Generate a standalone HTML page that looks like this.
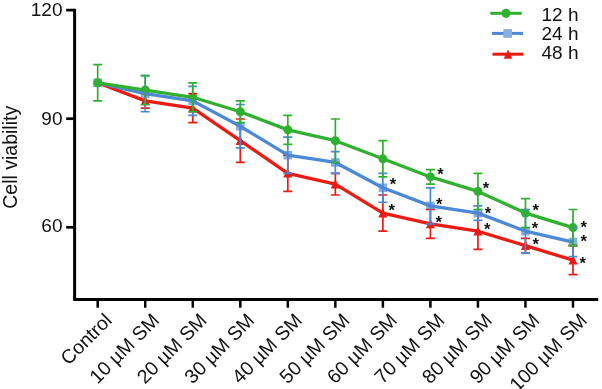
<!DOCTYPE html><html><head><meta charset="utf-8"><title>Cell viability</title>
<style>html,body{margin:0;padding:0;background:#fff}svg{display:block}text{font-family:"Liberation Sans",Arial,Helvetica,sans-serif;fill:#111}</style></head><body>
<svg width="602" height="389" viewBox="0 0 602 389">
<rect width="602" height="389" fill="#fff"/>
<path d="M97.70 77.90L102.30 87.10H93.10Z" fill="#ea1b12"/>
<path d="M145.23 96.00L149.83 105.20H140.63Z" fill="#ea1b12"/>
<path d="M192.76 103.24L197.36 112.44H188.16Z" fill="#ea1b12"/>
<path d="M240.29 135.82L244.89 145.02H235.69Z" fill="#ea1b12"/>
<path d="M287.82 168.40L292.42 177.60H283.22Z" fill="#ea1b12"/>
<path d="M335.35 179.26L339.95 188.46H330.75Z" fill="#ea1b12"/>
<path d="M382.88 208.22L387.48 217.42H378.28Z" fill="#ea1b12"/>
<path d="M430.41 219.08L435.01 228.28H425.81Z" fill="#ea1b12"/>
<path d="M477.94 226.32L482.54 235.52H473.34Z" fill="#ea1b12"/>
<path d="M525.47 240.80L530.07 250.00H520.87Z" fill="#ea1b12"/>
<path d="M573.00 255.28L577.60 264.48H568.40Z" fill="#ea1b12"/>
<rect x="93.40" y="78.50" width="8.6" height="8.6" fill="#86afe6"/>
<rect x="140.93" y="89.36" width="8.6" height="8.6" fill="#86afe6"/>
<rect x="188.46" y="96.60" width="8.6" height="8.6" fill="#86afe6"/>
<rect x="235.99" y="121.94" width="8.6" height="8.6" fill="#86afe6"/>
<rect x="283.52" y="150.90" width="8.6" height="8.6" fill="#86afe6"/>
<rect x="331.05" y="158.14" width="8.6" height="8.6" fill="#86afe6"/>
<rect x="378.58" y="183.48" width="8.6" height="8.6" fill="#86afe6"/>
<rect x="426.11" y="201.58" width="8.6" height="8.6" fill="#86afe6"/>
<rect x="473.64" y="208.82" width="8.6" height="8.6" fill="#86afe6"/>
<rect x="521.17" y="226.92" width="8.6" height="8.6" fill="#86afe6"/>
<rect x="568.70" y="237.78" width="8.6" height="8.6" fill="#86afe6"/>
<circle cx="97.70" cy="82.80" r="4.5" fill="#30b030"/>
<circle cx="145.23" cy="90.04" r="4.5" fill="#30b030"/>
<circle cx="192.76" cy="97.28" r="4.5" fill="#30b030"/>
<circle cx="240.29" cy="111.76" r="4.5" fill="#30b030"/>
<circle cx="287.82" cy="129.86" r="4.5" fill="#30b030"/>
<circle cx="335.35" cy="140.72" r="4.5" fill="#30b030"/>
<circle cx="382.88" cy="158.82" r="4.5" fill="#30b030"/>
<circle cx="430.41" cy="176.92" r="4.5" fill="#30b030"/>
<circle cx="477.94" cy="191.40" r="4.5" fill="#30b030"/>
<circle cx="525.47" cy="213.12" r="4.5" fill="#30b030"/>
<circle cx="573.00" cy="227.60" r="4.5" fill="#30b030"/>
<path d="M145.23 93.66V108.14M140.73 93.66H149.73M140.73 108.14H149.73" stroke="#ea1b12" stroke-width="1.7" fill="none"/>
<path d="M192.76 93.66V122.62M188.26 93.66H197.26M188.26 122.62H197.26" stroke="#ea1b12" stroke-width="1.7" fill="none"/>
<path d="M240.29 119.00V162.44M235.79 119.00H244.79M235.79 162.44H244.79" stroke="#ea1b12" stroke-width="1.7" fill="none"/>
<path d="M287.82 155.20V191.40M283.32 155.20H292.32M283.32 191.40H292.32" stroke="#ea1b12" stroke-width="1.7" fill="none"/>
<path d="M335.35 173.30V195.02M330.85 173.30H339.85M330.85 195.02H339.85" stroke="#ea1b12" stroke-width="1.7" fill="none"/>
<path d="M382.88 195.02V231.22M378.38 195.02H387.38M378.38 231.22H387.38" stroke="#ea1b12" stroke-width="1.7" fill="none"/>
<path d="M430.41 209.50V238.46M425.91 209.50H434.91M425.91 238.46H434.91" stroke="#ea1b12" stroke-width="1.7" fill="none"/>
<path d="M477.94 213.12V249.32M473.44 213.12H482.44M473.44 249.32H482.44" stroke="#ea1b12" stroke-width="1.7" fill="none"/>
<path d="M525.47 238.46V252.94M520.97 238.46H529.97M520.97 252.94H529.97" stroke="#ea1b12" stroke-width="1.7" fill="none"/>
<path d="M573.00 245.70V274.66M568.50 245.70H577.50M568.50 274.66H577.50" stroke="#ea1b12" stroke-width="1.7" fill="none"/>
<polyline points="97.70,82.80 145.23,100.90 192.76,108.14 240.29,140.72 287.82,173.30 335.35,184.16 382.88,213.12 430.41,223.98 477.94,231.22 525.47,245.70 573.00,260.18" fill="none" stroke="#ea1b12" stroke-width="3.3" stroke-linejoin="round"/>
<path d="M145.23 75.56V111.76M140.73 75.56H149.73M140.73 111.76H149.73" stroke="#4c88d4" stroke-width="1.7" fill="none"/>
<path d="M192.76 86.42V115.38M188.26 86.42H197.26M188.26 115.38H197.26" stroke="#4c88d4" stroke-width="1.7" fill="none"/>
<path d="M240.29 104.52V147.96M235.79 104.52H244.79M235.79 147.96H244.79" stroke="#4c88d4" stroke-width="1.7" fill="none"/>
<path d="M287.82 137.10V173.30M283.32 137.10H292.32M283.32 173.30H292.32" stroke="#4c88d4" stroke-width="1.7" fill="none"/>
<path d="M335.35 151.58V173.30M330.85 151.58H339.85M330.85 173.30H339.85" stroke="#4c88d4" stroke-width="1.7" fill="none"/>
<path d="M382.88 173.30V202.26M378.38 173.30H387.38M378.38 202.26H387.38" stroke="#4c88d4" stroke-width="1.7" fill="none"/>
<path d="M430.41 187.78V223.98M425.91 187.78H434.91M425.91 223.98H434.91" stroke="#4c88d4" stroke-width="1.7" fill="none"/>
<path d="M477.94 205.88V220.36M473.44 205.88H482.44M473.44 220.36H482.44" stroke="#4c88d4" stroke-width="1.7" fill="none"/>
<path d="M525.47 209.50V252.94M520.97 209.50H529.97M520.97 252.94H529.97" stroke="#4c88d4" stroke-width="1.7" fill="none"/>
<path d="M573.00 227.60V256.56M568.50 227.60H577.50M568.50 256.56H577.50" stroke="#4c88d4" stroke-width="1.7" fill="none"/>
<polyline points="97.70,82.80 145.23,93.66 192.76,100.90 240.29,126.24 287.82,155.20 335.35,162.44 382.88,187.78 430.41,205.88 477.94,213.12 525.47,231.22 573.00,242.08" fill="none" stroke="#4c88d4" stroke-width="3.3" stroke-linejoin="round"/>
<path d="M97.70 64.70V100.90M93.20 64.70H102.20M93.20 100.90H102.20" stroke="#30b030" stroke-width="1.7" fill="none"/>
<path d="M145.23 75.56V104.52M140.73 75.56H149.73M140.73 104.52H149.73" stroke="#30b030" stroke-width="1.7" fill="none"/>
<path d="M192.76 82.80V111.76M188.26 82.80H197.26M188.26 111.76H197.26" stroke="#30b030" stroke-width="1.7" fill="none"/>
<path d="M240.29 100.90V122.62M235.79 100.90H244.79M235.79 122.62H244.79" stroke="#30b030" stroke-width="1.7" fill="none"/>
<path d="M287.82 115.38V144.34M283.32 115.38H292.32M283.32 144.34H292.32" stroke="#30b030" stroke-width="1.7" fill="none"/>
<path d="M335.35 119.00V162.44M330.85 119.00H339.85M330.85 162.44H339.85" stroke="#30b030" stroke-width="1.7" fill="none"/>
<path d="M382.88 140.72V176.92M378.38 140.72H387.38M378.38 176.92H387.38" stroke="#30b030" stroke-width="1.7" fill="none"/>
<path d="M430.41 169.68V184.16M425.91 169.68H434.91M425.91 184.16H434.91" stroke="#30b030" stroke-width="1.7" fill="none"/>
<path d="M477.94 173.30V209.50M473.44 173.30H482.44M473.44 209.50H482.44" stroke="#30b030" stroke-width="1.7" fill="none"/>
<path d="M525.47 198.64V227.60M520.97 198.64H529.97M520.97 227.60H529.97" stroke="#30b030" stroke-width="1.7" fill="none"/>
<path d="M573.00 209.50V245.70M568.50 209.50H577.50M568.50 245.70H577.50" stroke="#30b030" stroke-width="1.7" fill="none"/>
<polyline points="97.70,82.80 145.23,90.04 192.76,97.28 240.29,111.76 287.82,129.86 335.35,140.72 382.88,158.82 430.41,176.92 477.94,191.40 525.47,213.12 573.00,227.60" fill="none" stroke="#30b030" stroke-width="3.3" stroke-linejoin="round"/>
<path d="M74.6 8.8V299.6M73.1 299.6H598.2" stroke="#000" stroke-width="3" fill="none"/>
<path d="M66.2 10.10H74" stroke="#000" stroke-width="2.7"/>
<path d="M66.2 118.70H74" stroke="#000" stroke-width="2.7"/>
<path d="M66.2 227.30H74" stroke="#000" stroke-width="2.7"/>
<path d="M97.70 299V307.7" stroke="#000" stroke-width="2.5"/>
<path d="M145.23 299V307.7" stroke="#000" stroke-width="2.5"/>
<path d="M192.76 299V307.7" stroke="#000" stroke-width="2.5"/>
<path d="M240.29 299V307.7" stroke="#000" stroke-width="2.5"/>
<path d="M287.82 299V307.7" stroke="#000" stroke-width="2.5"/>
<path d="M335.35 299V307.7" stroke="#000" stroke-width="2.5"/>
<path d="M382.88 299V307.7" stroke="#000" stroke-width="2.5"/>
<path d="M430.41 299V307.7" stroke="#000" stroke-width="2.5"/>
<path d="M477.94 299V307.7" stroke="#000" stroke-width="2.5"/>
<path d="M525.47 299V307.7" stroke="#000" stroke-width="2.5"/>
<path d="M573.00 299V307.7" stroke="#000" stroke-width="2.5"/>
<text x="62.5" y="16.40" font-size="19" text-anchor="end">120</text>
<text x="62.5" y="124.70" font-size="19" text-anchor="end">90</text>
<text x="62.5" y="232.10" font-size="19" text-anchor="end">60</text>
<text transform="translate(16.6 157.3) rotate(-90)" font-size="19.5" text-anchor="middle">Cell viability</text>
<text transform="translate(113.00 321.6) rotate(-45)" font-size="19.5" text-anchor="end">Control</text>
<text transform="translate(160.53 321.6) rotate(-45)" font-size="19.5" text-anchor="end">10 µM SM</text>
<text transform="translate(208.06 321.6) rotate(-45)" font-size="19.5" text-anchor="end">20 µM SM</text>
<text transform="translate(255.59 321.6) rotate(-45)" font-size="19.5" text-anchor="end">30 µM SM</text>
<text transform="translate(303.12 321.6) rotate(-45)" font-size="19.5" text-anchor="end">40 µM SM</text>
<text transform="translate(350.65 321.6) rotate(-45)" font-size="19.5" text-anchor="end">50 µM SM</text>
<text transform="translate(398.18 321.6) rotate(-45)" font-size="19.5" text-anchor="end">60 µM SM</text>
<text transform="translate(445.71 321.6) rotate(-45)" font-size="19.5" text-anchor="end">70 µM SM</text>
<text transform="translate(493.24 321.6) rotate(-45)" font-size="19.5" text-anchor="end">80 µM SM</text>
<text transform="translate(540.77 321.6) rotate(-45)" font-size="19.5" text-anchor="end">90 µM SM</text>
<text transform="translate(588.30 321.6) rotate(-45)" font-size="19.5" text-anchor="end">100 µM SM</text>
<path d="M490.3 13.3H521.8" stroke="#30b030" stroke-width="3"/><circle cx="506" cy="13.3" r="4.6" fill="#30b030"/>
<path d="M492 33.4H523" stroke="#4c88d4" stroke-width="3"/><rect x="503.3" y="29.1" width="8.7" height="8.8" fill="#86afe6"/>
<path d="M492.5 54.2H523.3" stroke="#ea1b12" stroke-width="3"/><path d="M508 49.6L512.3 58.8H503.7Z" fill="#ea1b12"/>
<text x="541.5" y="20.5" font-size="19">12 h</text>
<text x="541.5" y="40.0" font-size="19">24 h</text>
<text x="541.5" y="59.3" font-size="19">48 h</text>
<text x="393" y="189.6" font-size="16.5" font-weight="bold" text-anchor="middle">*</text>
<text x="391.8" y="216.0" font-size="16.5" font-weight="bold" text-anchor="middle">*</text>
<text x="440.5" y="180.4" font-size="16.5" font-weight="bold" text-anchor="middle">*</text>
<text x="439.3" y="209.6" font-size="16.5" font-weight="bold" text-anchor="middle">*</text>
<text x="438.6" y="227.6" font-size="16.5" font-weight="bold" text-anchor="middle">*</text>
<text x="486" y="193.6" font-size="16.5" font-weight="bold" text-anchor="middle">*</text>
<text x="488" y="219.4" font-size="16.5" font-weight="bold" text-anchor="middle">*</text>
<text x="487.2" y="235.4" font-size="16.5" font-weight="bold" text-anchor="middle">*</text>
<text x="535.6" y="215.8" font-size="16.5" font-weight="bold" text-anchor="middle">*</text>
<text x="535" y="234.1" font-size="16.5" font-weight="bold" text-anchor="middle">*</text>
<text x="535.8" y="250.1" font-size="16.5" font-weight="bold" text-anchor="middle">*</text>
<text x="583.8" y="232.6" font-size="16.5" font-weight="bold" text-anchor="middle">*</text>
<text x="583.8" y="247.1" font-size="16.5" font-weight="bold" text-anchor="middle">*</text>
<text x="582.6" y="268.8" font-size="16.5" font-weight="bold" text-anchor="middle">*</text>
</svg></body></html>
